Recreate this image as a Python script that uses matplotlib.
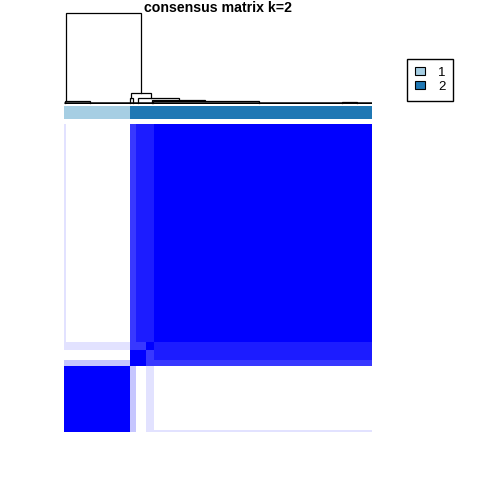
import numpy as np
import matplotlib
matplotlib.use('Agg')
import matplotlib.pyplot as plt
from matplotlib.colors import ListedColormap
from matplotlib.patches import Patch

plt.rcParams['font.family'] = ['Liberation Sans', 'DejaVu Sans']

# sample groups in dendrogram order (left->right, bottom->top)
group_names = ['A0', 'A', 'B', 'C', 'D', 'E']
group_sizes = [1, 32, 3, 5, 4, 109]
group_cluster = [1, 1, 2, 2, 2, 2]

# mean consensus between groups (symmetric)
consensus = [
    [1.00, 0.95, 0.20, 0.05, 0.10, 0.12],
    [0.95, 1.00, 0.25, 0.05, 0.12, 0.00],
    [0.20, 0.25, 1.00, 0.95, 0.70, 0.75],
    [0.05, 0.05, 0.95, 1.00, 0.75, 0.85],
    [0.10, 0.12, 0.70, 0.75, 1.00, 0.85],
    [0.12, 0.00, 0.75, 0.85, 0.85, 1.00],
]

# dendrogram links in sample units: left x, right x, left foot, right foot, merge height
link_xl = [1.0, 33.5, 32.75, 37.15, 44.0, 44.5, 0.5, 139.0]
link_xr = [38.5, 43.5, 34.25, 57.35, 70.5, 97.5, 13.0, 146.5]
link_hl = [0.033, 0.066, 0.016, 0.016, 0.016, 0.016, 0.016, 0.016]
link_hr = [0.121, 0.066, 0.016, 0.044, 0.030, 0.016, 0.016, 0.016]
link_h = [1.0, 0.121, 0.066, 0.066, 0.044, 0.030, 0.033, 0.027]
leaf_h = 0.016

cluster_labels = ['1', '2']
cluster_colors = ['#A6CEE3', '#1F78B4']

n = sum(group_sizes)
idx = np.repeat(np.arange(len(group_sizes)), group_sizes)
mat = np.array(consensus)[np.ix_(idx, idx)]
cl = np.repeat(group_cluster, group_sizes)

# white -> blue palette, 10 steps
pal = [(1 - t, 1 - t, 1.0) for t in np.linspace(0, 1, 10)]
cmap = ListedColormap(pal)

W = 480.0
fig = plt.figure(figsize=(4.8, 4.8), dpi=100)

def box(x0, y0, x1, y1):
    return [x0 / W, 1 - y1 / W, (x1 - x0) / W, (y1 - y0) / W]

# heatmap
ax = fig.add_axes(box(64, 124, 372, 432))
ax.imshow(mat, cmap=cmap, vmin=0, vmax=1, origin='lower', aspect='auto',
          interpolation='nearest', extent=(0, n, 0, n))
ax.set_axis_off()

# cluster colour bar
axc = fig.add_axes(box(64, 106, 372, 119))
axc.imshow(cl[np.newaxis, :], cmap=ListedColormap(cluster_colors), vmin=1, vmax=2,
           aspect='auto', interpolation='nearest', extent=(0, n, 0, 1))
axc.set_axis_off()

# dendrogram
axd = fig.add_axes(box(64, 13.3, 372, 104))
for xl, xr, hl, hr, h in zip(link_xl, link_xr, link_hl, link_hr, link_h):
    axd.plot([xl, xl, xr, xr], [hl, h, h, hr], color='black', lw=0.9,
             clip_on=False, solid_joinstyle='miter')
axd.hlines(leaf_h, 0, n, color='black', lw=1.8)
axd.set_xlim(0, n)
axd.set_ylim(0, 1.0)
axd.set_axis_off()

fig.text(218 / W, 1 - 7.5 / W, 'consensus matrix k=2', ha='center', va='center',
         fontsize=10.2, fontweight='bold')

handles = [Patch(facecolor=c, edgecolor='black', lw=0.8) for c in cluster_colors]
leg = fig.legend(handles, cluster_labels, loc='upper left',
                 bbox_to_anchor=(407 / W, 1 - 59 / W), borderaxespad=0,
                 fontsize=9.5, handlelength=0.75, handleheight=0.6,
                 borderpad=0.6, labelspacing=0.15, handletextpad=1.0,
                 fancybox=False, edgecolor='black', framealpha=1)
leg.get_frame().set_linewidth(1.0)

fig.savefig('out.png', dpi=100)
